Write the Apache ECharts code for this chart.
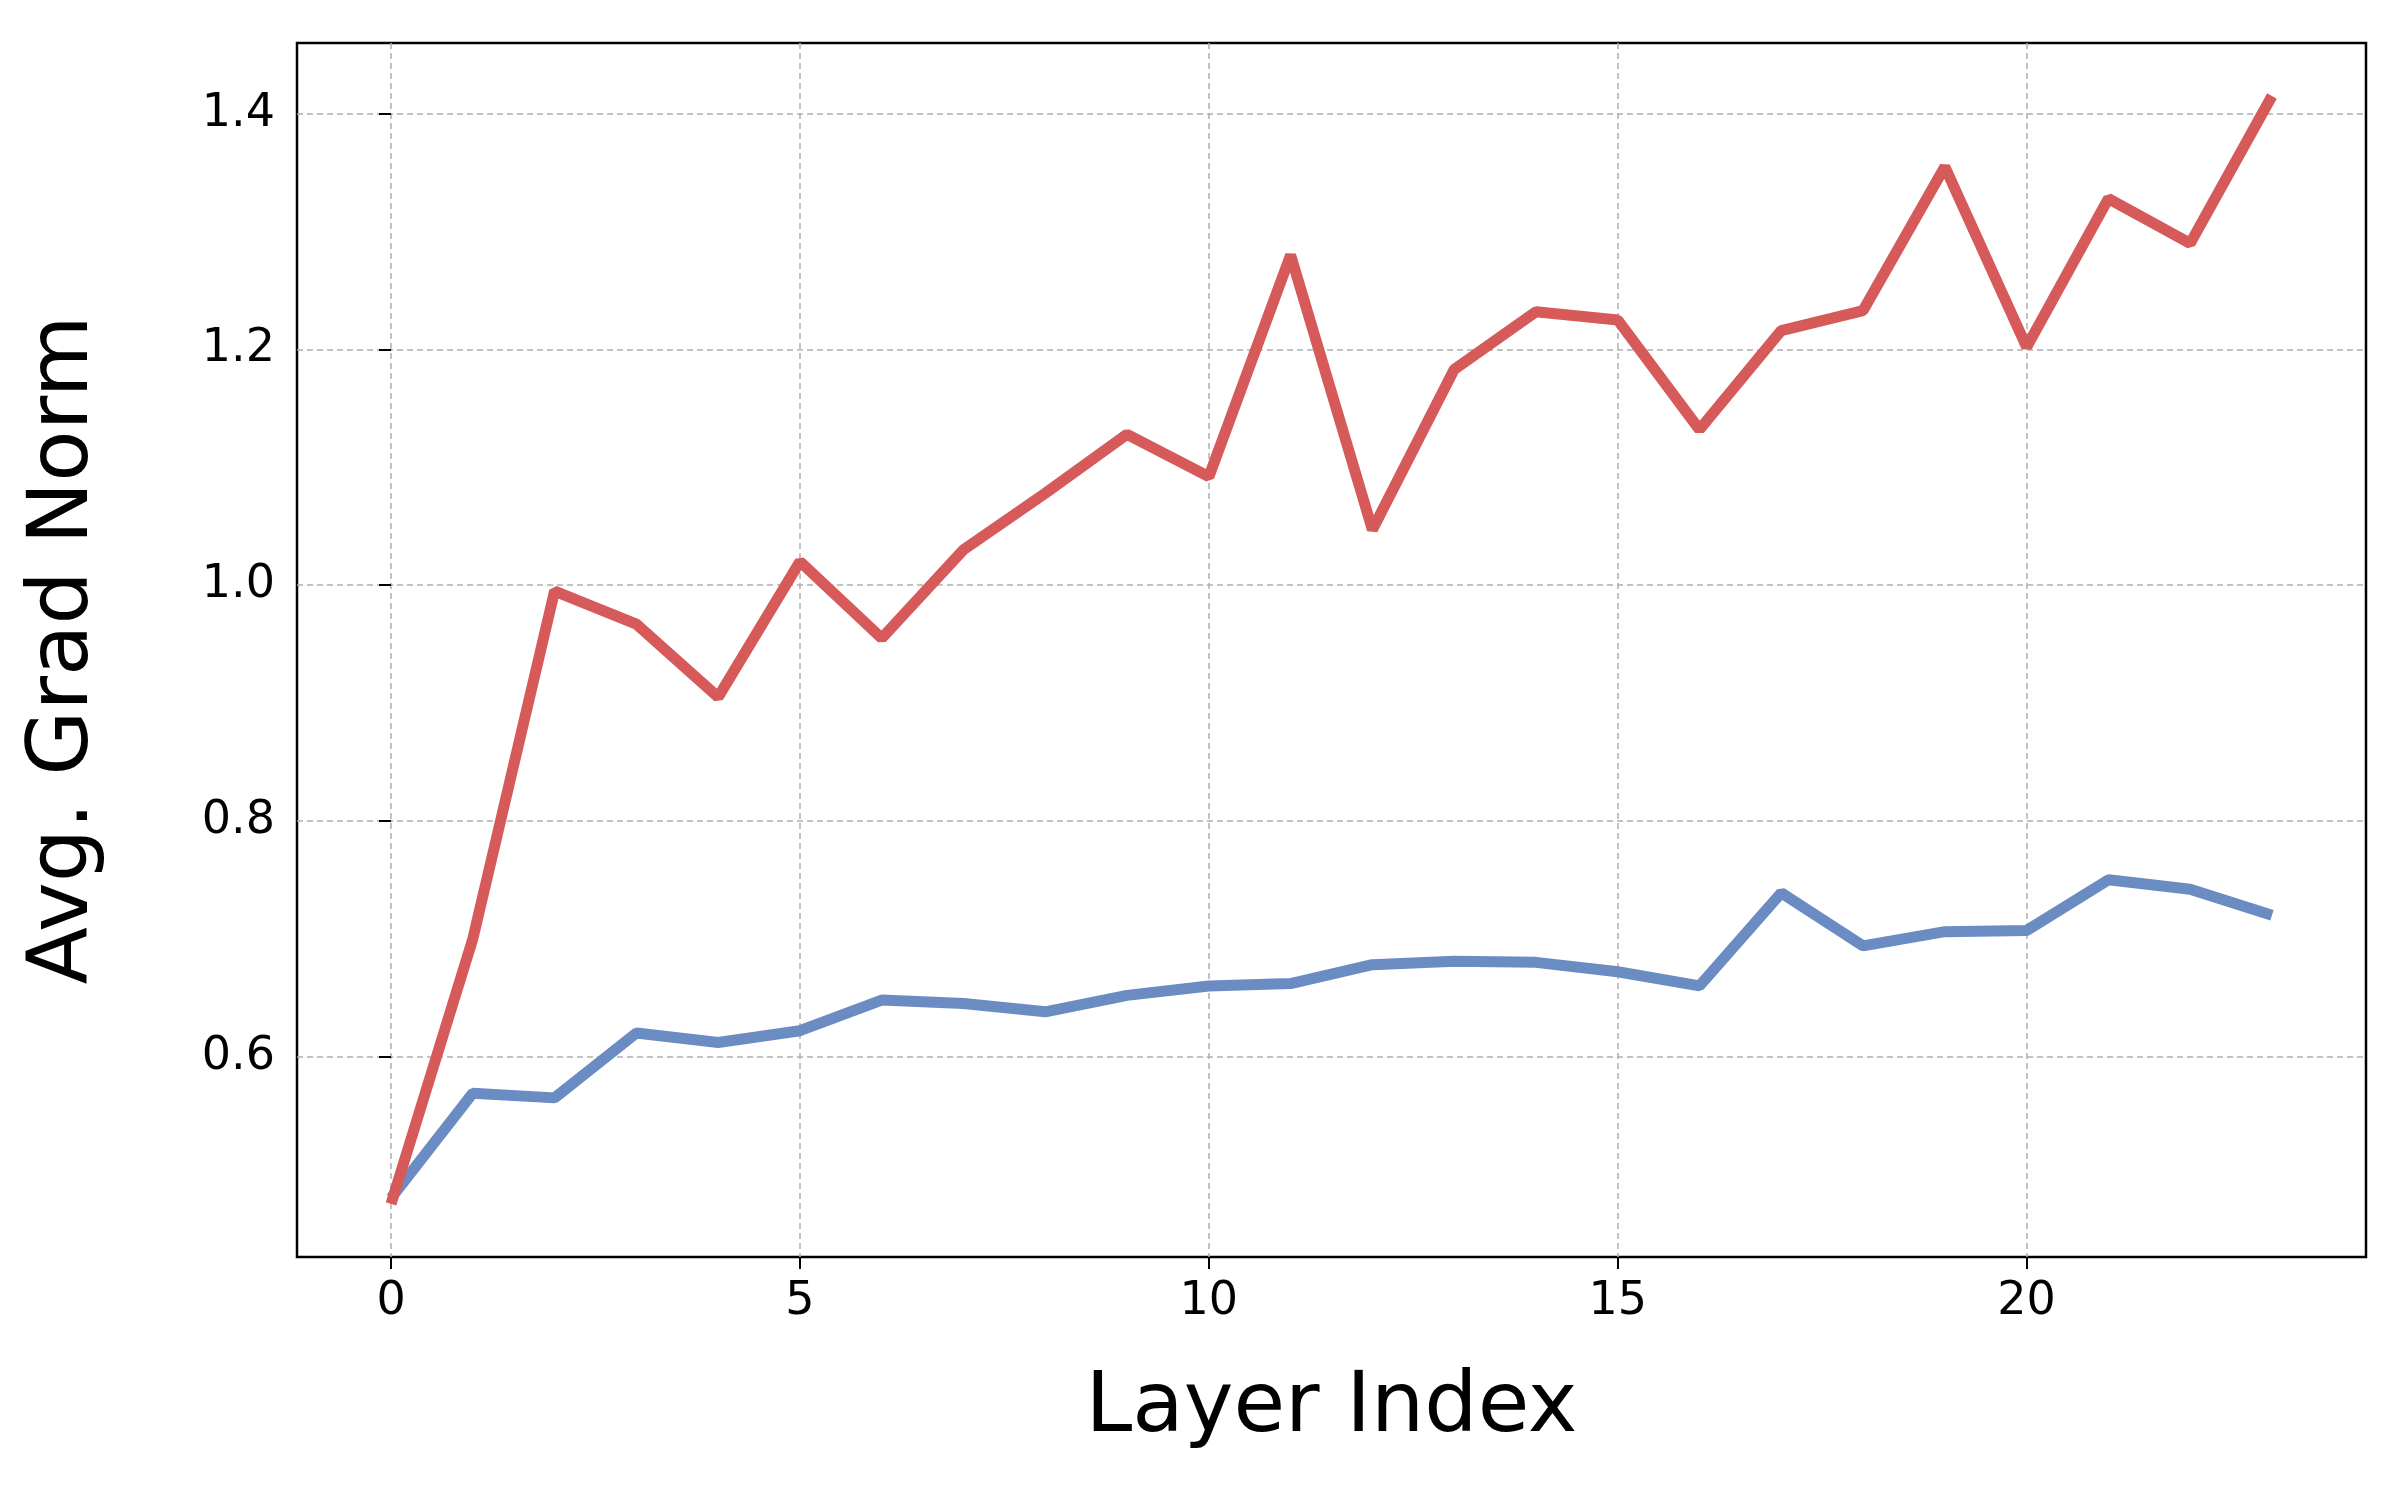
<!DOCTYPE html>
<html><head><meta charset="utf-8">
<script src="https://cdn.jsdelivr.net/npm/echarts@6/dist/echarts.min.js"></script>
<style>html,body{margin:0;background:#fff}#c{width:2400px;height:1500px}</style>
</head><body><div id="c"></div>
<script>
var layers = [0,1,2,3,4,5,6,7,8,9,10,11,12,13,14,15,16,17,18,19,20,21,22,23];
var redSeries = [0.475,0.70,0.995,0.967,0.905,1.02,0.955,1.03,1.078,1.128,1.092,1.28,1.047,1.183,1.232,1.225,1.132,1.216,1.233,1.355,1.202,1.328,1.29,1.415];
var blueSeries = [0.48,0.569,0.565,0.62,0.612,0.622,0.648,0.645,0.638,0.652,0.66,0.662,0.678,0.681,0.68,0.672,0.66,0.739,0.694,0.706,0.707,0.75,0.742,0.72];
var xTicks = [0,5,10,15,20];
var yTicks = [0.6,0.8,1.0,1.2,1.4];

function pairs(vals) { return layers.map(function (x, i) { return [x, vals[i]]; }); }

var font = 'DejaVu Sans';
var chart = echarts.init(document.getElementById('c'));
chart.setOption({
  animation: false,
  grid: { left: 297, right: 34, top: 43, bottom: 243, show: true, borderColor: '#000', borderWidth: 2.5, backgroundColor: 'transparent' },
  xAxis: {
    type: 'value', min: -1.15, max: 24.15,
    name: 'Layer Index', nameLocation: 'middle', nameGap: 110,
    nameTextStyle: { fontFamily: font, fontSize: 84, color: '#000' },
    axisLine: { show: false },
    axisTick: { show: true, length: 12, lineStyle: { color: '#000', width: 2 }, customValues: xTicks },
    axisLabel: { customValues: xTicks, fontFamily: font, fontSize: 46, color: '#000', margin: 22 },
    splitLine: { show: true, lineStyle: { color: '#b0b0b0', type: [6, 4], width: 1.5 } }
  },
  yAxis: {
    type: 'value', min: 0.43, max: 1.46,
    name: 'Avg. Grad Norm', nameLocation: 'middle', nameGap: 190,
    nameTextStyle: { fontFamily: font, fontSize: 84, color: '#000' },
    axisLine: { show: false },
    axisTick: { show: true, length: 12, lineStyle: { color: '#000', width: 2 }, customValues: yTicks },
    axisLabel: { customValues: yTicks, fontFamily: font, fontSize: 46, color: '#000', margin: 22,
      formatter: function (v) { return v.toFixed(1); } },
    splitLine: { show: true, lineStyle: { color: '#b0b0b0', type: [6, 4], width: 1.5 } }
  },
  series: [
    { type: 'line', data: pairs(blueSeries), showSymbol: false, lineStyle: { color: '#6a8cc2', width: 11 } },
    { type: 'line', data: pairs(redSeries), showSymbol: false, lineStyle: { color: '#d65a5a', width: 11 } }
  ]
});
</script></body></html>
